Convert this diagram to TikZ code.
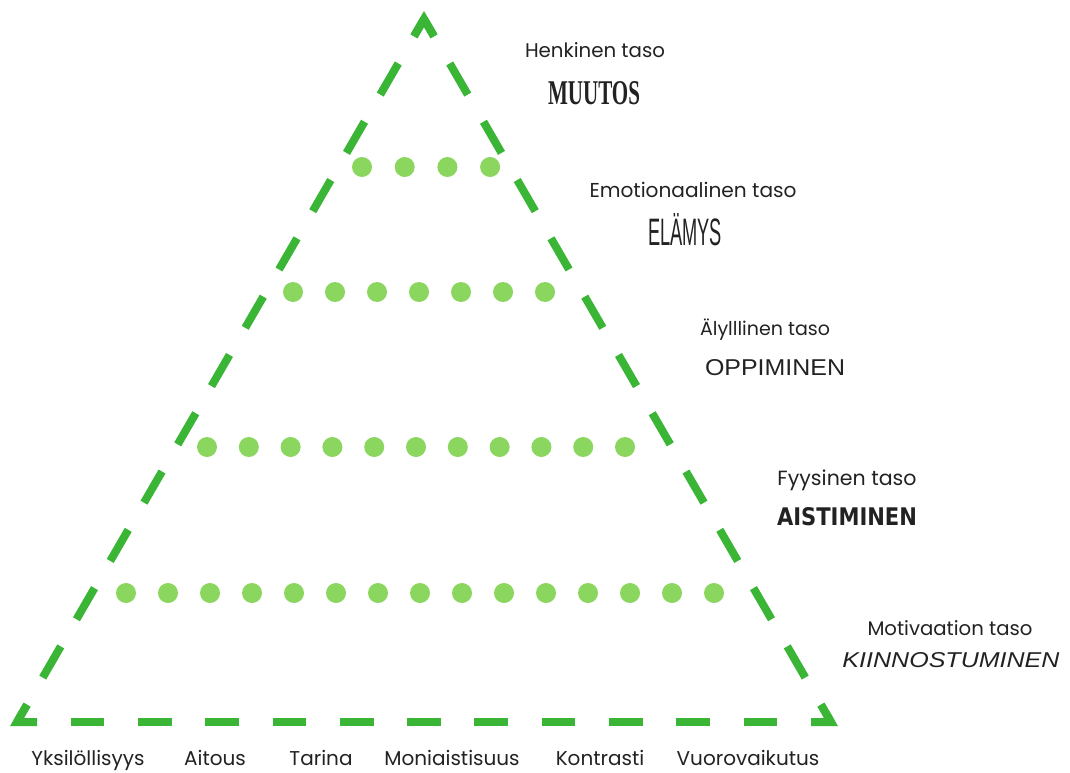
\documentclass[tikz,border=0pt]{standalone}
\usepackage{fontspec}
\usepackage{graphicx}
\usetikzlibrary{calc}
\newfontfamily\labfont{Poppins}
\newfontfamily\serbold{Liberation Serif}
\newfontfamily\sansfont{Liberation Sans}
\newfontfamily\heavyfont{DejaVu Sans}
\definecolor{trigreen}{HTML}{3AB535}
\definecolor{dotgreen}{HTML}{8AD65E}
\definecolor{ink}{HTML}{222222}
\newcommand\lw[2]{\resizebox{#1pt}{!}{\labfont #2}}
\newcommand\ttl[3]{\resizebox{#1pt}{#2pt}{#3}}
\begin{document}
\begin{tikzpicture}[x=1pt,y=-1pt,
  side/.style={draw=trigreen,line width=8pt},
  corner/.style={draw=trigreen,line width=8pt,line join=miter,miter limit=10},
  dot/.style={circle,fill=dotgreen,minimum size=20pt,inner sep=0pt},
  lab/.style={anchor=base,text=ink,inner sep=0pt},
  blab/.style={lab,font=\labfont\fontsize{20}{23}\selectfont},
]
\useasboundingbox (0,0) rectangle (1070,773);
\coordinate (A) at (424,19);
\coordinate (B) at (17,722);
\coordinate (C) at (831,722);
% sides
\draw[side,dash pattern=on 36pt off 31.36pt,dash phase=16pt] (A) -- (B);
\draw[side,dash pattern=on 36pt off 31.36pt,dash phase=16pt] (A) -- (C);
\draw[side,dash pattern=on 33.65pt off 33.65pt,dash phase=13.65pt] (B) -- (C);
% corners
\draw[corner] ($(A)!20pt!(B)$) -- (A) -- ($(A)!20pt!(C)$);
\draw[corner] ($(B)!20pt!(A)$) -- (B) -- ($(B)!20pt!(C)$);
\draw[corner] ($(C)!20pt!(A)$) -- (C) -- ($(C)!20pt!(B)$);
% dots
\foreach \i in {0,...,3} \node[dot] (r1d\i) at (362+42.7*\i,167) {};
\foreach \i in {0,...,6} \node[dot] (r2d\i) at (293+42*\i,292) {};
\foreach \i in {0,...,10} \node[dot] (r3d\i) at (207+41.8*\i,447) {};
\foreach \i in {0,...,14} \node[dot] (r4d\i) at (126+42*\i,593) {};
% level labels
\node[lab] (l1) at (595,58) {\lw{140}{Henkinen taso}};
\node[lab] (t1) at (594,105) {\ttl{92}{23}{\serbold\bfseries MUUTOS}};
\node[lab] (l2) at (693,197) {\lw{207}{Emotionaalinen taso}};
\node[lab] (t2) at (685,245) {\ttl{74}{32}{\sansfont ELÄMYS}};
\node[lab] (l3) at (765,335) {\lw{130}{Älylllinen taso}};
\node[lab] (t3) at (775,375) {\ttl{140}{16}{\sansfont OPPIMINEN}};
\node[lab] (l4) at (847,485) {\lw{139}{Fyysinen taso}};
\node[lab] (t4) at (847,525) {\ttl{140}{18}{\heavyfont\bfseries AISTIMINEN}};
\node[lab] (l5) at (950,635) {\lw{165}{Motivaation taso}};
\node[lab] (t5) at (951,667) {\ttl{217}{15}{\sansfont\itshape KIINNOSTUMINEN}};
% bottom labels
\node[blab] (b1) at (88,765) {Yksilöllisyys};
\node[blab] (b2) at (215,765) {Aitous};
\node[blab] (b3) at (321,765) {Tarina};
\node[blab] (b4) at (452,765) {Moniaistisuus};
\node[blab] (b5) at (600,765) {Kontrasti};
\node[blab] (b6) at (748,765) {Vuorovaikutus};
\end{tikzpicture}
\end{document}
